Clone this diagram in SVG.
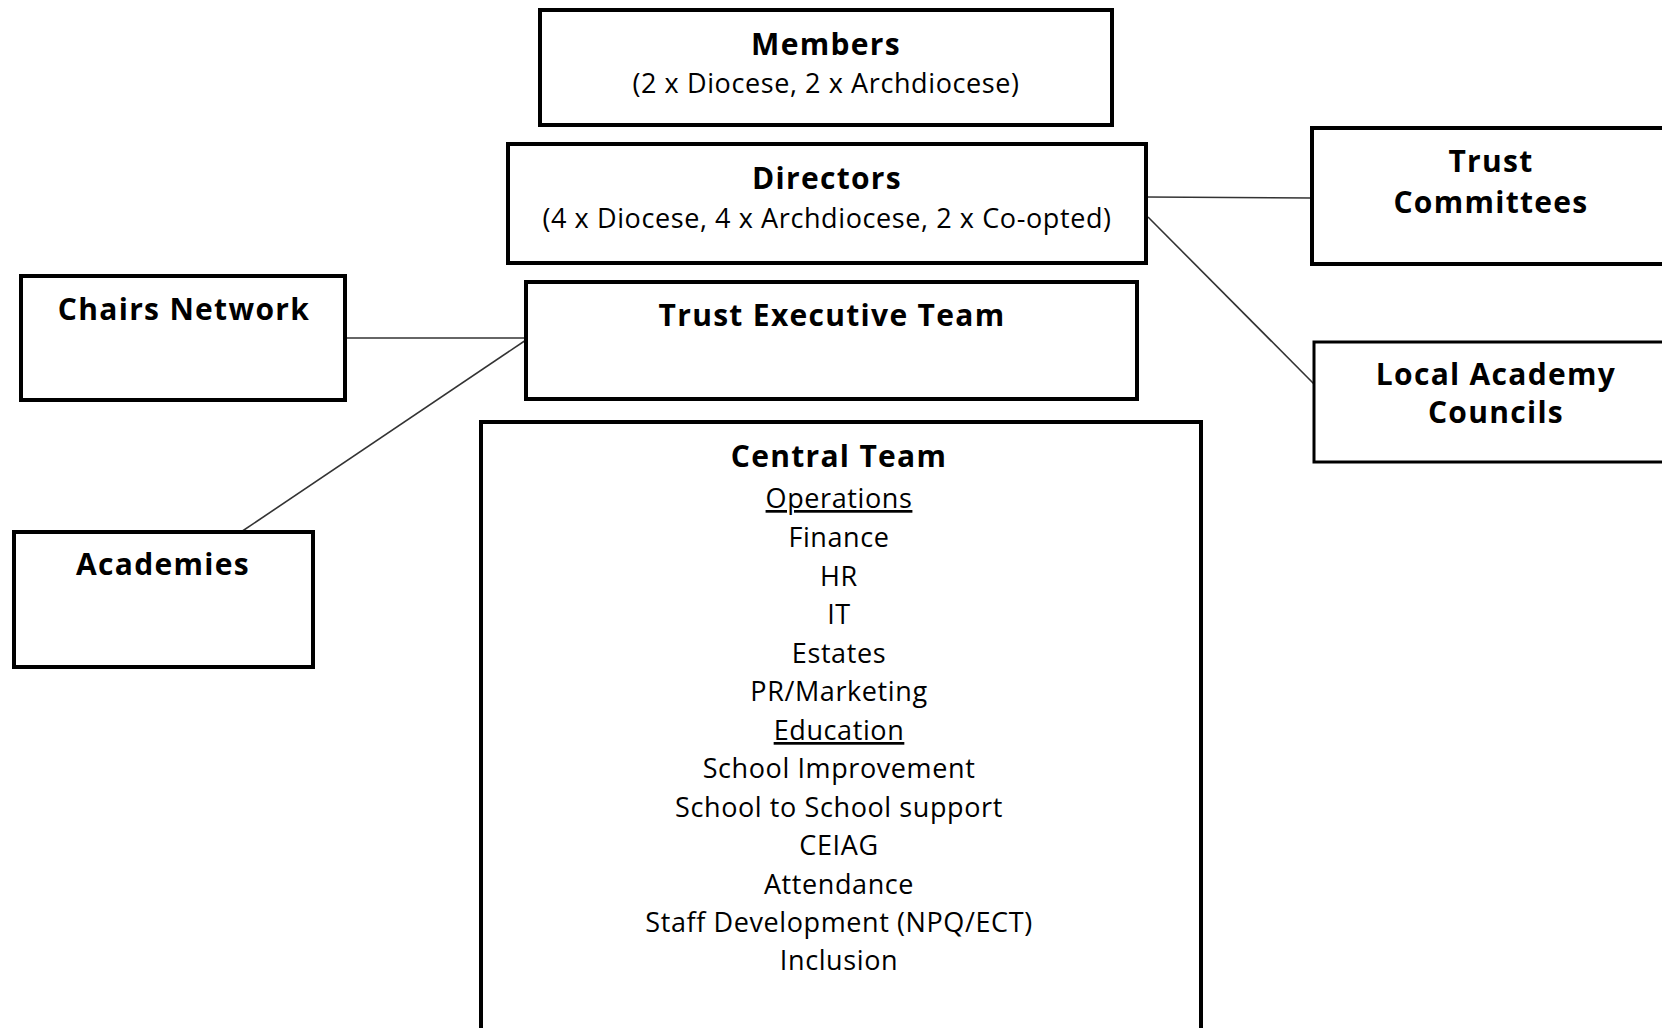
<svg xmlns="http://www.w3.org/2000/svg" width="1662" height="1028" viewBox="0 0 1662 1028">
<style>
.box{fill:#fff;stroke:#000;stroke-width:4}
.t{font-family:"Open Sans",Lato,"Liberation Sans",sans-serif;font-size:27px;letter-spacing:0.6px;fill:#000;text-anchor:middle}
.b{font-weight:bold;font-size:30px;letter-spacing:1.3px}
.conn{stroke:#333;stroke-width:1.6;fill:none}
</style>
<rect width="1662" height="1028" fill="#fff"/>
<g id="connectors">
<line class="conn" x1="1146" y1="197" x2="1312" y2="198"/>
<line class="conn" x1="1148" y1="217" x2="1314" y2="384"/>
<line class="conn" x1="345" y1="338" x2="526" y2="338"/>
<line class="conn" x1="526" y1="340" x2="241" y2="532"/>
</g>
<g id="members">
<rect class="box" x="540" y="10" width="572" height="115"/>
<text class="t b" x="826" y="55">Members</text>
<text class="t" x="826" y="93">(2 x Diocese, 2 x Archdiocese)</text>
</g>
<g id="directors">
<rect class="box" x="508" y="144" width="638" height="119"/>
<text class="t b" x="827" y="189">Directors</text>
<text class="t" x="827" y="228">(4 x Diocese, 4 x Archdiocese, 2 x Co-opted)</text>
</g>
<g id="trust-committees">
<rect class="box" x="1312" y="128" width="360" height="136"/>
<text class="t b" x="1491" y="172">Trust</text>
<text class="t b" x="1491" y="213">Committees</text>
</g>
<g id="local-academy-councils">
<rect class="box" x="1314" y="342" width="360" height="120" style="stroke-width:3"/>
<text class="t b" x="1496" y="385">Local Academy</text>
<text class="t b" x="1496" y="423">Councils</text>
</g>
<g id="chairs-network">
<rect class="box" x="21" y="276" width="324" height="124"/>
<text class="t b" x="184" y="320">Chairs Network</text>
</g>
<g id="trust-executive-team">
<rect class="box" x="526" y="282" width="611" height="117"/>
<text class="t b" x="832" y="326">Trust Executive Team</text>
</g>
<g id="academies">
<rect class="box" x="14" y="532" width="299" height="135"/>
<text class="t b" x="163" y="575">Academies</text>
</g>
<g id="central-team">
<rect class="box" x="481" y="422" width="720" height="620"/>
<text class="t b" x="839" y="467">Central Team</text>
<text class="t" x="839" y="508" text-decoration="underline">Operations</text>
<text class="t" x="839" y="547">Finance</text>
<text class="t" x="839" y="586">HR</text>
<text class="t" x="839" y="624">IT</text>
<text class="t" x="839" y="663">Estates</text>
<text class="t" x="839" y="701">PR/Marketing</text>
<text class="t" x="839" y="740" text-decoration="underline">Education</text>
<text class="t" x="839" y="778">School Improvement</text>
<text class="t" x="839" y="817">School to School support</text>
<text class="t" x="839" y="855">CEIAG</text>
<text class="t" x="839" y="894">Attendance</text>
<text class="t" x="839" y="932">Staff Development (NPQ/ECT)</text>
<text class="t" x="839" y="970">Inclusion</text>
</g>
</svg>
